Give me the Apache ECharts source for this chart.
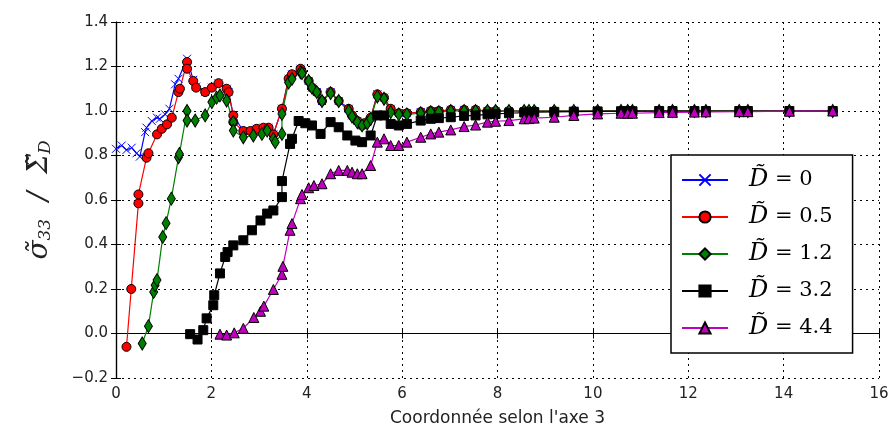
<!DOCTYPE html>
<html><head><meta charset="utf-8">
<script src="https://cdn.jsdelivr.net/npm/echarts@6/dist/echarts.min.js"></script>
<style>html,body{margin:0;padding:0;background:#fff}#c{width:894px;height:435px}</style>
</head><body><div id="c"></div>
<script>
const xTicks = [0,2,4,6,8,10,12,14,16];
const yTicks = [-0.2,0,0.2,0.4,0.6,0.8,1.0,1.2,1.4];
const seriesNames = ['0','0.5','1.2','3.2','4.4'];

const dBlue = [[0.0,0.83],[0.12,0.845],[0.22,0.825],[0.33,0.835],[0.43,0.81],[0.5,0.795],[0.61,0.905],[0.64,0.925],[0.75,0.955],[0.86,0.97],[0.92,0.965],[1.03,0.985],[1.12,1.01],[1.24,1.12],[1.31,1.145],[1.49,1.235],[1.62,1.14],[1.68,1.11],[1.87,1.085],[2.01,1.105],[2.15,1.125],[2.32,1.10],[2.36,1.085],[2.46,0.98],[2.67,0.91],[2.82,0.91],[2.95,0.92],[3.09,0.925],[3.2,0.925],[3.3,0.895],[3.48,1.01],[3.62,1.145],[3.69,1.165],[3.87,1.19],[3.9,1.175],[4.04,1.135],[4.11,1.105],[4.21,1.085],[4.32,1.045],[4.5,1.085],[4.67,1.045],[4.88,1.01],[4.95,0.98],[5.06,0.955],[5.16,0.935],[5.27,0.95],[5.34,0.97],[5.48,1.075],[5.62,1.06],[5.76,1.01],[5.93,0.99],[6.1,0.99],[6.39,0.995],[6.6,1.0],[6.77,1.0],[7.02,1.005],[7.3,1.005],[7.54,1.005],[7.79,1.0],[7.96,1.0],[8.24,1.0],[8.56,1.0],[8.66,1.0],[8.77,1.0],[9.19,1.0],[9.6,1.0],[10.1,1.0],[10.59,1.0],[10.73,1.0],[10.83,1.0],[11.39,1.0],[11.67,1.0],[12.13,1.0],[12.37,1.0],[13.07,1.0],[13.25,1.0],[14.12,1.0],[15.03,1.0]];

const dRed = [[0.22,-0.06],[0.32,0.20],[0.47,0.585],[0.47,0.625],[0.64,0.79],[0.68,0.81],[0.86,0.895],[0.96,0.92],[1.07,0.94],[1.17,0.97],[1.31,1.085],[1.34,1.10],[1.49,1.22],[1.49,1.19],[1.62,1.135],[1.68,1.105],[1.87,1.085],[2.01,1.105],[2.15,1.125],[2.32,1.10],[2.36,1.085],[2.46,0.98],[2.46,0.95],[2.67,0.91],[2.82,0.91],[2.95,0.92],[3.09,0.925],[3.2,0.925],[3.3,0.895],[3.48,1.01],[3.62,1.145],[3.69,1.165],[3.87,1.19],[3.9,1.175],[4.04,1.135],[4.11,1.105],[4.21,1.085],[4.32,1.045],[4.5,1.085],[4.67,1.045],[4.88,1.01],[4.95,0.98],[5.06,0.955],[5.16,0.935],[5.27,0.95],[5.34,0.97],[5.48,1.075],[5.62,1.06],[5.76,1.01],[5.93,0.99],[6.1,0.99],[6.39,0.995],[6.6,1.0],[6.77,1.0],[7.02,1.005],[7.3,1.005],[7.54,1.005],[7.79,1.0],[7.96,1.0],[8.24,1.0],[8.56,1.0],[8.66,1.0],[8.77,1.0],[9.19,1.0],[9.6,1.0],[10.1,1.0],[10.59,1.0],[10.73,1.0],[10.83,1.0],[11.39,1.0],[11.67,1.0],[12.13,1.0],[12.37,1.0],[13.07,1.0],[13.25,1.0],[14.12,1.0],[15.03,1.0]];

const dGreen = [[0.55,-0.045],[0.68,0.033],[0.79,0.187],[0.82,0.217],[0.86,0.24],[0.98,0.434],[1.05,0.496],[1.16,0.606],[1.31,0.792],[1.33,0.807],[1.49,1.0],[1.49,0.957],[1.66,0.957],[1.87,0.98],[2.01,1.04],[2.11,1.06],[2.18,1.07],[2.32,1.047],[2.46,0.95],[2.46,0.912],[2.67,0.882],[2.88,0.89],[3.06,0.897],[3.17,0.912],[3.3,0.875],[3.34,0.86],[3.48,0.897],[3.48,0.987],[3.62,1.128],[3.69,1.144],[3.87,1.174],[3.9,1.17],[4.04,1.135],[4.11,1.105],[4.21,1.085],[4.32,1.045],[4.5,1.08],[4.67,1.045],[4.88,1.0],[4.95,0.975],[5.06,0.95],[5.16,0.935],[5.27,0.945],[5.34,0.965],[5.48,1.065],[5.62,1.055],[5.76,0.995],[5.93,0.985],[6.1,0.985],[6.39,0.99],[6.6,0.995],[6.77,0.995],[7.02,1.0],[7.3,1.0],[7.54,1.0],[7.79,1.0],[7.96,1.0],[8.24,1.0],[8.56,1.0],[8.66,1.0],[8.77,1.0],[9.19,1.0],[9.6,1.0],[10.1,1.0],[10.59,1.0],[10.73,1.0],[10.83,1.0],[11.39,1.0],[11.67,1.0],[12.13,1.0],[12.37,1.0],[13.07,1.0],[13.25,1.0],[14.12,1.0],[15.03,1.0]];

const dBlack = [[1.555,-0.003],[1.71,-0.027],[1.83,0.015],[1.9,0.068],[2.04,0.127],[2.06,0.172],[2.18,0.27],[2.29,0.344],[2.34,0.366],[2.46,0.396],[2.67,0.419],[2.85,0.464],[3.03,0.508],[3.17,0.539],[3.3,0.553],[3.48,0.613],[3.48,0.685],[3.65,0.852],[3.69,0.875],[3.83,0.955],[3.97,0.945],[4.11,0.935],[4.29,0.897],[4.5,0.95],[4.67,0.927],[4.85,0.89],[5.02,0.867],[5.16,0.86],[5.34,0.89],[5.48,0.98],[5.62,0.98],[5.76,0.942],[5.93,0.935],[6.1,0.942],[6.39,0.957],[6.6,0.965],[6.77,0.968],[7.02,0.972],[7.3,0.978],[7.54,0.98],[7.79,0.985],[7.96,0.987],[8.24,0.99],[8.56,0.993],[8.66,0.994],[8.77,0.995],[9.19,0.996],[9.6,0.997],[10.1,0.998],[10.59,0.999],[10.73,0.999],[10.83,0.999],[11.39,1.0],[11.67,1.0],[12.13,1.0],[12.37,1.0],[13.07,1.0],[13.25,1.0],[14.12,1.0],[15.03,1.0]];

const dMagenta = [[2.18,-0.003],[2.32,-0.007],[2.48,0.003],[2.67,0.023],[2.89,0.072],[3.03,0.10],[3.1,0.123],[3.3,0.198],[3.48,0.266],[3.5,0.302],[3.65,0.464],[3.69,0.494],[3.87,0.606],[3.9,0.625],[4.04,0.655],[4.15,0.665],[4.32,0.673],[4.5,0.718],[4.67,0.733],[4.85,0.733],[4.95,0.725],[5.06,0.718],[5.16,0.718],[5.34,0.755],[5.48,0.86],[5.62,0.875],[5.76,0.845],[5.93,0.845],[6.1,0.86],[6.39,0.882],[6.6,0.897],[6.77,0.905],[7.02,0.915],[7.3,0.93],[7.54,0.937],[7.79,0.95],[7.96,0.954],[8.24,0.957],[8.56,0.965],[8.66,0.966],[8.77,0.968],[9.19,0.972],[9.6,0.98],[10.1,0.987],[10.59,0.99],[10.73,0.99],[10.83,0.99],[11.39,0.993],[11.67,0.994],[12.13,0.995],[12.37,0.996],[13.07,0.997],[13.25,0.997],[14.12,0.999],[15.03,1.0]];

const chart = echarts.init(document.getElementById('c'), null, {renderer:'canvas'});
const fmtNum = v => { const s = Math.abs(v).toFixed(1); return v < -1e-9 ? '\u2212' + s : s; };
const grid = {left:116, right:15, top:22, bottom:57};
const dotted = {show:true, lineStyle:{color:'#000', type:[2,4], width:1}};
function mkSeries(name, data, color, symbol, size, edge) {
  return {
    name: name, type:'line', data:data, symbol:symbol, symbolSize:size,
    showAllSymbol:true, animation:false,
    lineStyle:{color:color, width:1.2},
    itemStyle:{color:color, borderColor:edge, borderWidth:1}
  };
}
const xPath = 'path://M0,0L10,10M10,0L0,10';
chart.setOption({
  animation:false,
  grid:grid,
  legend:{
    orient:'vertical', left:671, top:155, width:184,
    padding:[13,20,13,10], itemGap:13, itemWidth:46, itemHeight:14,
    backgroundColor:'#fff', borderColor:'#000', borderWidth:1.5,
    textStyle:{fontFamily:'DejaVu Serif', fontSize:21, color:'#000',
      rich:{d:{fontFamily:'DejaVu Serif', fontStyle:'italic', fontSize:24, padding:[0,0,0,16]}, n:{fontFamily:'DejaVu Serif', fontSize:21}}},
    formatter: n => '{d|D\u0303}{n| = ' + n + '}',
    data: seriesNames
  },
  xAxis:[{
    type:'value', min:0, max:16, interval:2,
    name:"Coordonnée selon l'axe 3", nameLocation:'middle', nameGap:32,
    nameTextStyle:{fontFamily:'DejaVu Sans', fontSize:17, color:'#222'},
    axisLine:{lineStyle:{color:'#000', width:1.2}},
    axisTick:{inside:true, length:5, lineStyle:{color:'#000'}},
    axisLabel:{fontFamily:'DejaVu Sans', fontSize:15, color:'#222', margin:9},
    splitLine:dotted
  },{
    type:'value', min:0, max:16, interval:2, position:'top',
    axisLine:{show:true, lineStyle:{color:'#000', width:1.2}},
    axisTick:{inside:true, length:5, lineStyle:{color:'#000'}},
    axisLabel:{show:false}, splitLine:{show:false}
  }],
  yAxis:[{
    type:'value', min:-0.2, max:1.4, interval:0.2,
    name:'{g|σ\u0303}{s|33}{g|  /  Σ\u0303}{s|D}', nameLocation:'middle', nameGap:62,
    nameTextStyle:{color:'#222', rich:{
      g:{fontFamily:'DejaVu Serif', fontStyle:'italic', fontSize:28, color:'#222'},
      s:{fontFamily:'DejaVu Serif', fontStyle:'italic', fontSize:17, color:'#222', verticalAlign:'bottom', padding:[12,0,0,0]}}},
    axisLine:{show:true, lineStyle:{color:'#000', width:1.2}},
    axisTick:{inside:true, length:5, lineStyle:{color:'#000'}},
    axisLabel:{fontFamily:'DejaVu Sans', fontSize:15, color:'#222', margin:8, formatter:fmtNum},
    splitLine:dotted
  },{
    type:'value', min:-0.2, max:1.4, interval:0.2, position:'right',
    axisLine:{show:true, lineStyle:{color:'#000', width:1.2}},
    axisTick:{inside:true, length:5, lineStyle:{color:'#000'}},
    axisLabel:{show:false}, splitLine:{show:false}
  }],
  series:[
    mkSeries('0', dBlue, '#0000ff', xPath, 8, '#0000ff'),
    mkSeries('0.5', dRed, '#ff0000', 'circle', 9, '#000'),
    mkSeries('1.2', dGreen, '#008000', 'diamond', [8,13], '#000'),
    mkSeries('3.2', dBlack, '#000000', 'rect', 9, '#000'),
    mkSeries('4.4', dMagenta, '#bf00bf', 'triangle', 10, '#000')
  ]
});
</script></body></html>
